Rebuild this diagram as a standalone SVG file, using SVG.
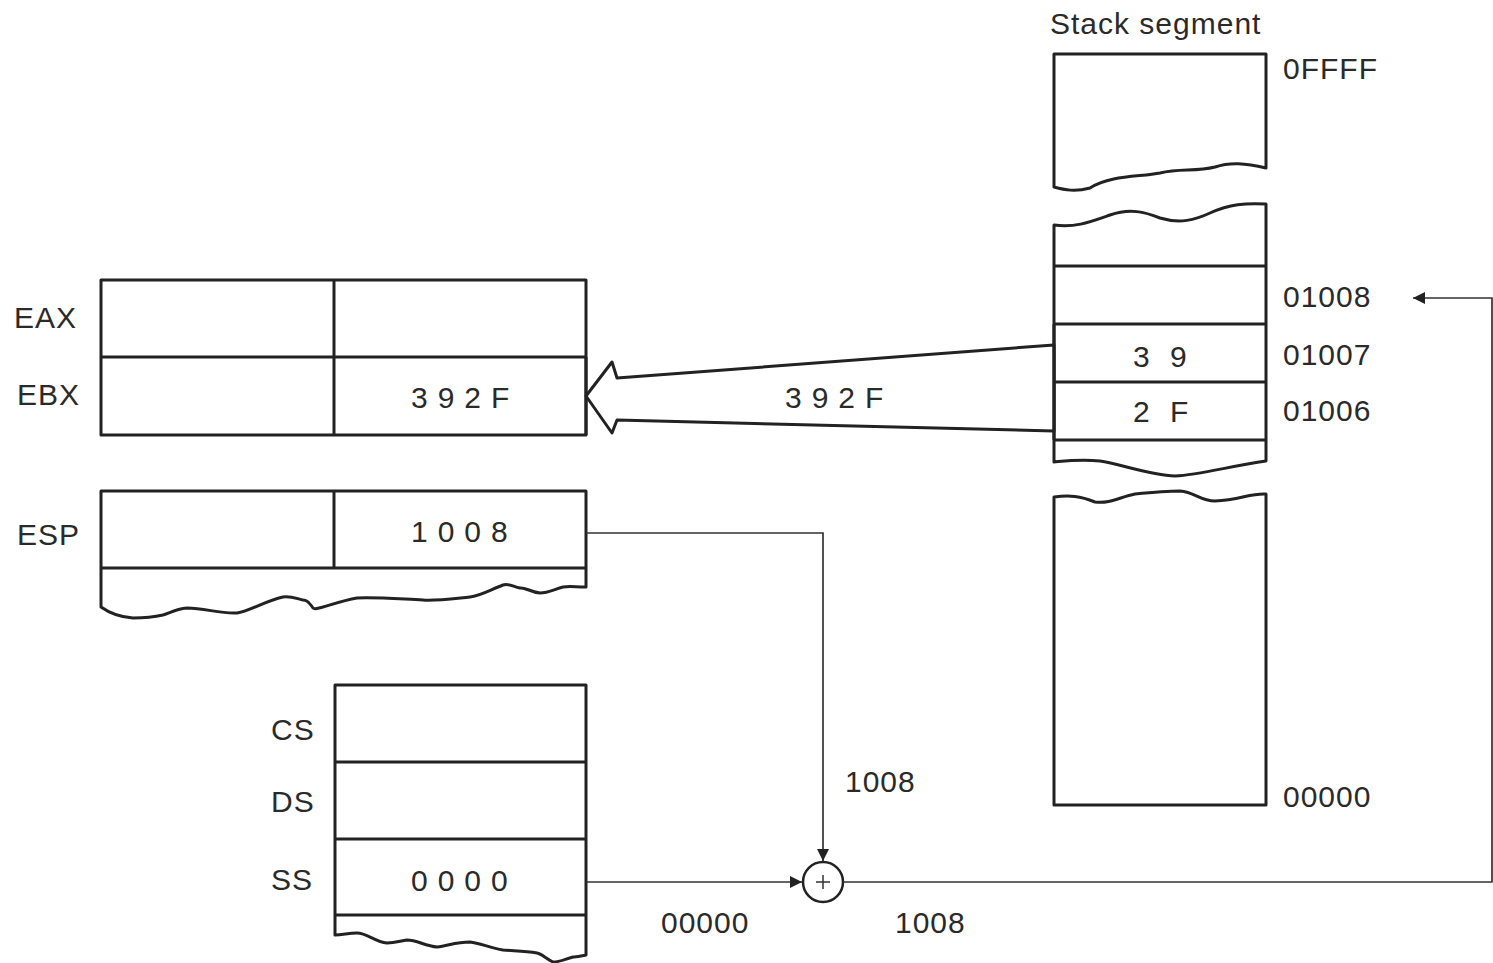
<svg xmlns="http://www.w3.org/2000/svg" width="1493" height="963" viewBox="0 0 1493 963">
<defs>
<style>
.box{fill:#fff;stroke:#222;stroke-width:3;stroke-linejoin:round}
.ln{fill:none;stroke:#222;stroke-width:3}
.cn{fill:none;stroke:#333;stroke-width:1.7}
text{font-family:"Liberation Sans",Arial,sans-serif;font-size:30px;letter-spacing:1px;fill:#2a2a2a}
text.sp{letter-spacing:10px}
</style>
<marker id="ah" viewBox="0 0 10 10" refX="10" refY="5" markerWidth="18" markerHeight="12" markerUnits="userSpaceOnUse" orient="auto">
<path d="M0,0 L10,5 L0,10 z" fill="#222"/>
</marker>
</defs>
<rect width="1493" height="963" fill="#fff"/>

<g id="stack-segment">
<text x="1050" y="34">Stack segment</text>
<path class="box" d="M1054,54 H1266 V168 C1245,163 1230,162 1215,167 C1195,172 1180,168 1160,173 C1140,177 1110,175 1090,188 C1075,192 1065,190 1054,187 Z"/>
<path class="box" d="M1054,225 C1075,228 1090,222 1110,215 C1130,208 1145,212 1160,218 C1180,224 1195,220 1210,213 C1230,204 1245,203 1266,204 V461 C1230,466 1200,475 1175,476 C1150,475 1120,464 1100,461 C1080,459 1065,461 1054,462 Z"/>
<line class="ln" x1="1054" y1="266" x2="1266" y2="266"/>
<line class="ln" x1="1054" y1="324" x2="1266" y2="324"/>
<line class="ln" x1="1054" y1="382" x2="1266" y2="382"/>
<line class="ln" x1="1054" y1="440" x2="1266" y2="440"/>
<path class="box" d="M1054,497 C1070,495 1080,496 1095,502 C1110,504 1120,497 1135,494 C1155,492 1165,491 1180,491 C1195,492 1200,501 1215,501 C1240,500 1250,493 1266,494 V805 H1054 Z"/>
<text x="1133" y="367">3</text><text x="1170" y="367">9</text>
<text x="1133" y="422">2</text><text x="1170" y="422">F</text>
<text x="1283" y="79">0FFFF</text>
<text x="1283" y="307">01008</text>
<text x="1283" y="365">01007</text>
<text x="1283" y="421">01006</text>
<text x="1283" y="807">00000</text>
</g>

<g id="general-registers">
<rect class="box" x="101" y="280" width="485" height="155"/>
<line class="ln" x1="101" y1="357" x2="586" y2="357"/>
<line class="ln" x1="334" y1="280" x2="334" y2="435"/>
<text x="14" y="328">EAX</text>
<text x="17" y="405">EBX</text>
<text class="sp" x="411" y="408">392F</text>
</g>

<g id="esp-register">
<path class="box" d="M101,491 H586 V587 C575,587 570,586 563,587 C555,589 548,593 540,593 C530,592 525,587 520,588 C512,586 508,583 503,585 C490,590 480,596 470,597 C450,599 435,601 423,600 C400,599 375,597 357,598 C345,600 330,605 323,607 C318,608 315,610 313,608 C308,601 306,600 303,600 C295,598 290,596 283,597 C265,601 250,611 237,613 C220,614 205,608 187,608 C175,609 168,614 163,615 C150,618 140,618 133,618 C118,617 108,612 101,607 Z"/>
<line class="ln" x1="101" y1="568" x2="586" y2="568"/>
<line class="ln" x1="334" y1="491" x2="334" y2="568"/>
<text x="17" y="545">ESP</text>
<text class="sp" x="411" y="542">1008</text>
</g>

<g id="segment-registers">
<path class="box" d="M335,685 H586 V955 C580,956 576,957 573,957 C565,959 560,962 553,962 C545,958 542,954 537,953 C525,951 515,951 503,950 C490,948 480,943 470,942 C455,942 448,946 437,947 C425,946 417,940 407,940 C400,941 395,943 387,943 C375,942 367,933 357,933 C348,933 343,935 335,935 Z"/>
<line class="ln" x1="335" y1="762" x2="586" y2="762"/>
<line class="ln" x1="335" y1="839" x2="586" y2="839"/>
<line class="ln" x1="335" y1="915" x2="586" y2="915"/>
<text x="271" y="740">CS</text>
<text x="271" y="812">DS</text>
<text x="271" y="890">SS</text>
<text class="sp" x="411" y="891">0000</text>
</g>

<g id="adder">
<circle cx="823" cy="882" r="20" fill="#fff" stroke="#222" stroke-width="2.5"/>
<path d="M816,882 H830 M823,875 V889" stroke="#333" stroke-width="1.5"/>
</g>

<g id="connectors">
<path class="box" d="M586,396 L612,362 L617,378 L1054,345 L1054,431 L617,420 L612,433 Z"/>
<line x1="586" y1="357" x2="586" y2="435" stroke="#222" stroke-width="3"/>
<line x1="1054" y1="324" x2="1054" y2="440" stroke="#222" stroke-width="3"/>
<text class="sp" x="785" y="408">392F</text>
<path class="cn" d="M586,533 H823 V861" marker-end="url(#ah)"/>
<path class="cn" d="M586,882 H802" marker-end="url(#ah)"/>
<path class="cn" d="M843,882 H1492 V298 H1413" marker-end="url(#ah)"/>
<text x="845" y="792">1008</text>
<text x="661" y="933">00000</text>
<text x="895" y="933">1008</text>
</g>
</svg>
